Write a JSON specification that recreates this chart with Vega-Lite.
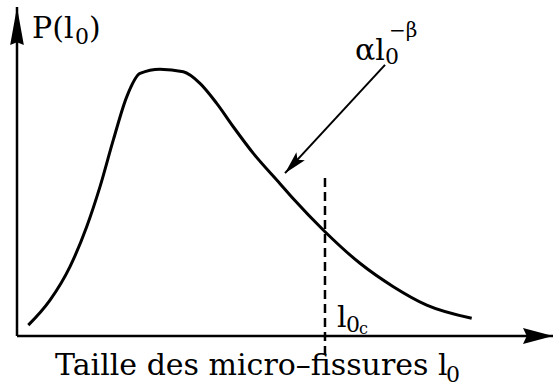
{
  "$schema": "https://vega.github.io/schema/vega-lite/v6.json",
  "width": 536,
  "height": 329,
  "autosize": {"type": "none"},
  "padding": {"left": 17, "top": 7, "right": 2, "bottom": 52},
  "background": "white",
  "config": {"view": {"stroke": null}, "text": {"font": "DejaVu Serif", "color": "black", "align": "left", "baseline": "alphabetic"}},
  "datasets": {
    "courbe": [
      {"l0": 0.211, "P": 0.033},
      {"l0": 0.616, "P": 0.109},
      {"l0": 0.989, "P": 0.211},
      {"l0": 1.300, "P": 0.332},
      {"l0": 1.549, "P": 0.454},
      {"l0": 1.797, "P": 0.596},
      {"l0": 2.047, "P": 0.727},
      {"l0": 2.295, "P": 0.798},
      {"l0": 2.668, "P": 0.811},
      {"l0": 3.103, "P": 0.803},
      {"l0": 3.414, "P": 0.768},
      {"l0": 3.726, "P": 0.707},
      {"l0": 4.035, "P": 0.636},
      {"l0": 4.409, "P": 0.555},
      {"l0": 4.907, "P": 0.463},
      {"l0": 5.155, "P": 0.417},
      {"l0": 5.746, "P": 0.317},
      {"l0": 6.399, "P": 0.221},
      {"l0": 7.021, "P": 0.150},
      {"l0": 7.644, "P": 0.094},
      {"l0": 8.483, "P": 0.054}
    ],
    "axes": [
      {"x": 0, "y": 0, "x2": 10, "y2": 0},
      {"x": 0, "y": 0, "x2": 0, "y2": 1}
    ],
    "fleche": [
      {"x": 6.866, "y": 0.824, "x2": 5.0, "y2": 0.495}
    ],
    "seuil": [
      {"x": 5.746, "y": -0.058, "y2": 0.480}
    ],
    "texte": [
      {"x": 0.280, "y": 0.906, "t": "P(l"},
      {"x": 1.343, "y": 0.906, "t": ")"},
      {"x": 6.306, "y": 0.839, "t": "αl"},
      {"x": 0.709, "y": -0.119, "t": "Taille des micro–fissures l"},
      {"x": 5.970, "y": 0.027, "t": "l"}
    ],
    "indice": [
      {"x": 1.082, "y": 0.888, "t": "0"},
      {"x": 6.866, "y": 0.827, "t": "0"},
      {"x": 8.004, "y": -0.140, "t": "0"},
      {"x": 6.138, "y": 0.012, "t": "0"}
    ],
    "petit": [
      {"x": 6.381, "y": 0.006, "t": "c"}
    ],
    "exposant": [
      {"x": 6.940, "y": 0.909, "t": "−β"}
    ]
  },
  "layer": [
    {
      "data": {"name": "axes"},
      "mark": {"type": "rule", "color": "black", "strokeWidth": 2.5},
      "encoding": {
        "x": {"field": "x", "type": "quantitative", "scale": {"domain": [0, 10], "nice": false, "zero": false}, "axis": null},
        "y": {"field": "y", "type": "quantitative", "scale": {"domain": [0, 1], "nice": false, "zero": false}, "axis": null},
        "x2": {"field": "x2"},
        "y2": {"field": "y2"}
      }
    },
    {
      "data": {"values": [{"x": 0, "y": 1}]},
      "mark": {"type": "point", "filled": true, "color": "black", "opacity": 1, "shape": "M0,0L-0.36,2L0,1.85L0.36,2Z", "size": 1444, "angle": 0},
      "encoding": {
        "x": {"field": "x", "type": "quantitative", "scale": {"domain": [0, 10], "nice": false, "zero": false}, "axis": null},
        "y": {"field": "y", "type": "quantitative", "scale": {"domain": [0, 1], "nice": false, "zero": false}, "axis": null}
      }
    },
    {
      "data": {"values": [{"x": 10, "y": 0}]},
      "mark": {"type": "point", "filled": true, "color": "black", "opacity": 1, "shape": "M0,0L-0.53,2L0,1.75L0.53,2Z", "size": 900, "angle": 90},
      "encoding": {
        "x": {"field": "x", "type": "quantitative", "scale": {"domain": [0, 10], "nice": false, "zero": false}, "axis": null},
        "y": {"field": "y", "type": "quantitative", "scale": {"domain": [0, 1], "nice": false, "zero": false}, "axis": null}
      }
    },
    {
      "data": {"name": "courbe"},
      "mark": {"type": "line", "color": "black", "strokeWidth": 3, "interpolate": "monotone"},
      "encoding": {
        "x": {"field": "l0", "type": "quantitative", "scale": {"domain": [0, 10], "nice": false, "zero": false}, "axis": null},
        "y": {"field": "P", "type": "quantitative", "scale": {"domain": [0, 1], "nice": false, "zero": false}, "axis": null}
      }
    },
    {
      "data": {"name": "seuil"},
      "mark": {"type": "rule", "color": "black", "strokeWidth": 2.5, "strokeDash": [9, 5]},
      "encoding": {
        "x": {"field": "x", "type": "quantitative", "scale": {"domain": [0, 10], "nice": false, "zero": false}, "axis": null},
        "y": {"field": "y", "type": "quantitative", "scale": {"domain": [0, 1], "nice": false, "zero": false}, "axis": null},
        "y2": {"field": "y2"}
      }
    },
    {
      "data": {"name": "fleche"},
      "mark": {"type": "rule", "color": "black", "strokeWidth": 2},
      "encoding": {
        "x": {"field": "x", "type": "quantitative", "scale": {"domain": [0, 10], "nice": false, "zero": false}, "axis": null},
        "y": {"field": "y", "type": "quantitative", "scale": {"domain": [0, 1], "nice": false, "zero": false}, "axis": null},
        "x2": {"field": "x2"},
        "y2": {"field": "y2"}
      }
    },
    {
      "data": {"values": [{"x": 5.0, "y": 0.495}]},
      "mark": {"type": "point", "filled": true, "color": "black", "opacity": 1, "shape": "M0,0L-0.5,2L0,1.6L0.5,2Z", "size": 529, "angle": 222.8},
      "encoding": {
        "x": {"field": "x", "type": "quantitative", "scale": {"domain": [0, 10], "nice": false, "zero": false}, "axis": null},
        "y": {"field": "y", "type": "quantitative", "scale": {"domain": [0, 1], "nice": false, "zero": false}, "axis": null}
      }
    },
    {
      "data": {"name": "texte"},
      "mark": {"type": "text", "fontSize": 30},
      "encoding": {
        "x": {"field": "x", "type": "quantitative", "scale": {"domain": [0, 10], "nice": false, "zero": false}, "axis": null},
        "y": {"field": "y", "type": "quantitative", "scale": {"domain": [0, 1], "nice": false, "zero": false}, "axis": null},
        "text": {"field": "t"}
      }
    },
    {
      "data": {"name": "indice"},
      "mark": {"type": "text", "fontSize": 22},
      "encoding": {
        "x": {"field": "x", "type": "quantitative", "scale": {"domain": [0, 10], "nice": false, "zero": false}, "axis": null},
        "y": {"field": "y", "type": "quantitative", "scale": {"domain": [0, 1], "nice": false, "zero": false}, "axis": null},
        "text": {"field": "t"}
      }
    },
    {
      "data": {"name": "petit"},
      "mark": {"type": "text", "fontSize": 16},
      "encoding": {
        "x": {"field": "x", "type": "quantitative", "scale": {"domain": [0, 10], "nice": false, "zero": false}, "axis": null},
        "y": {"field": "y", "type": "quantitative", "scale": {"domain": [0, 1], "nice": false, "zero": false}, "axis": null},
        "text": {"field": "t"}
      }
    },
    {
      "data": {"name": "exposant"},
      "mark": {"type": "text", "fontSize": 20},
      "encoding": {
        "x": {"field": "x", "type": "quantitative", "scale": {"domain": [0, 10], "nice": false, "zero": false}, "axis": null},
        "y": {"field": "y", "type": "quantitative", "scale": {"domain": [0, 1], "nice": false, "zero": false}, "axis": null},
        "text": {"field": "t"}
      }
    }
  ]
}
